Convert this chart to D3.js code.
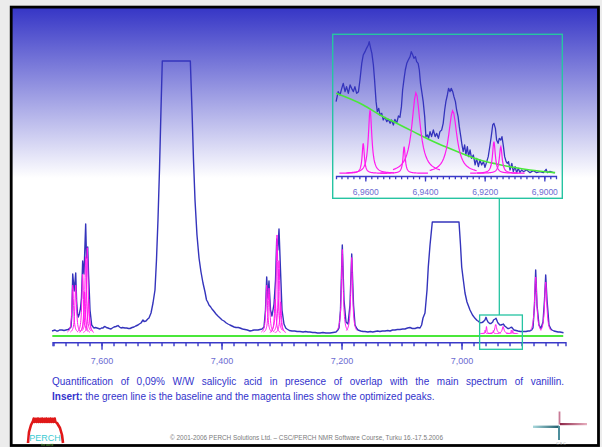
<!DOCTYPE html>
<html>
<head>
<meta charset="utf-8">
<script src="https://cdn.jsdelivr.net/npm/d3@7"></script>
<style>
  html, body { margin: 0; padding: 0; background: #ececec; }
  svg { display: block; font-family: "Liberation Sans", Arial, sans-serif; }
</style>
</head>
<body>
<svg id="slide"></svg>
<script>
// ---- data (ppm, intensity) ----

// full spectrum, main panel (intensity in arbitrary units above the baseline)
var spectrumMain = [
  [7.6825, 5], [7.6800, 5.5], [7.6775, 6], [7.6750, 5], [7.6725, 5], [7.6700, 6],
  [7.6659, 6], [7.6625, 5.5], [7.6592, 6], [7.6560, 6.5], [7.6542, 7], [7.6509, 9],
  [7.6495, 20], [7.6480, 62], [7.6455, 45], [7.6430, 63], [7.6415, 35], [7.6400, 22],
  [7.6387, 19], [7.6370, 22], [7.6350, 28], [7.6334, 38], [7.6314, 75], [7.6300, 65],
  [7.6292, 62], [7.6264, 112], [7.6250, 78], [7.6230, 89], [7.6215, 60], [7.6209, 52],
  [7.6192, 26], [7.6164, 11], [7.6140, 9], [7.6125, 8], [7.6100, 8.5], [7.6075, 8],
  [7.6050, 7.5], [7.6025, 7], [7.6000, 8], [7.5975, 8], [7.5960, 9], [7.5942, 9.5],
  [7.5920, 8.5], [7.5892, 8], [7.5870, 7.5], [7.5842, 7], [7.5820, 8], [7.5792, 9],
  [7.5760, 9.5], [7.5740, 10], [7.5725, 10.5], [7.5700, 9], [7.5675, 8], [7.5650, 8.5],
  [7.5609, 8], [7.5580, 8], [7.5550, 7.5], [7.5525, 7.5], [7.5490, 8.5], [7.5459, 9],
  [7.5430, 10], [7.5392, 11], [7.5370, 12], [7.5342, 13], [7.5320, 15], [7.5309, 16],
  [7.5290, 14.5], [7.5259, 15], [7.5230, 17], [7.5209, 18], [7.5175, 23], [7.5142, 33],
  [7.5109, 46], [7.5084, 76], [7.5059, 116], [7.5034, 166], [7.5009, 226], [7.4987, 275],
  [7.4520, 275], [7.4492, 226], [7.4467, 176], [7.4442, 136], [7.4409, 101], [7.4375, 78],
  [7.4342, 64], [7.4309, 53], [7.4275, 44], [7.4250, 36], [7.4230, 34], [7.4209, 31],
  [7.4180, 29], [7.4159, 27], [7.4130, 25], [7.4092, 22], [7.4060, 20], [7.4025, 18],
  [7.3990, 16], [7.3959, 15], [7.3920, 13], [7.3892, 12], [7.3860, 11], [7.3825, 10],
  [7.3790, 9], [7.3759, 8.5], [7.3720, 8.5], [7.3692, 8], [7.3650, 7], [7.3609, 6.5],
  [7.3570, 6], [7.3525, 5], [7.3490, 5.5], [7.3459, 6], [7.3420, 6], [7.3392, 6],
  [7.3360, 6.5], [7.3325, 7], [7.3292, 9], [7.3267, 26], [7.3247, 59], [7.3229, 38],
  [7.3209, 55], [7.3184, 26], [7.3159, 20], [7.3125, 32], [7.3100, 56], [7.3080, 97],
  [7.3062, 86], [7.3042, 107], [7.3017, 66], [7.2992, 26], [7.2959, 12], [7.2930, 8],
  [7.2909, 7], [7.2870, 5.5], [7.2825, 5], [7.2780, 5], [7.2740, 4.5], [7.2692, 4.5],
  [7.2640, 4], [7.2600, 4.5], [7.2560, 4], [7.2525, 4], [7.2480, 3.5], [7.2440, 3.5],
  [7.2400, 3], [7.2359, 3], [7.2310, 3.5], [7.2260, 3], [7.2192, 3], [7.2140, 3.5],
  [7.2092, 4], [7.2060, 6], [7.2042, 8], [7.2017, 26], [7.1987, 91], [7.1959, 36],
  [7.1925, 14], [7.1892, 12], [7.1859, 31], [7.1830, 82], [7.1800, 31], [7.1775, 11],
  [7.1745, 7.5], [7.1725, 6], [7.1680, 5], [7.1640, 4.5], [7.1609, 4.5], [7.1560, 4],
  [7.1520, 4.5], [7.1480, 4], [7.1442, 4.5], [7.1400, 5], [7.1360, 4.5], [7.1320, 5],
  [7.1275, 5], [7.1230, 5.5], [7.1190, 5], [7.1150, 6], [7.1109, 6], [7.1070, 6.5],
  [7.1025, 6.5], [7.0980, 7], [7.0942, 7], [7.0900, 8], [7.0859, 8.5], [7.0820, 7.5],
  [7.0775, 7.5], [7.0730, 8.5], [7.0692, 8], [7.0665, 11], [7.0642, 18], [7.0609, 23],
  [7.0575, 46], [7.0554, 69], [7.0525, 91], [7.0487, 114], [7.0042, 114], [7.0017, 91],
  [6.9997, 69], [6.9970, 56], [6.9942, 43], [6.9909, 34], [6.9859, 26], [6.9817, 21],
  [6.9775, 17.7], [6.9740, 15.5], [6.9725, 15], [6.9692, 13.3], [6.9660, 13.5], [6.9642, 14],
  [6.9610, 16], [6.9592, 18.7], [6.9575, 16], [6.9559, 14], [6.9530, 12.5], [6.9509, 12.5],
  [6.9480, 14], [6.9467, 16], [6.9440, 17], [6.9425, 17.7], [6.9400, 14], [6.9392, 13],
  [6.9360, 11], [6.9342, 11], [6.9320, 11.5], [6.9304, 12], [6.9280, 10], [6.9259, 9],
  [6.9230, 7.5], [6.9209, 7.5], [6.9180, 8.5], [6.9164, 8.7], [6.9140, 7], [6.9125, 6],
  [6.9090, 5.5], [6.9059, 5], [6.9020, 4.5], [6.8992, 4.5], [6.8950, 4.5], [6.8925, 4.5],
  [6.8890, 5], [6.8859, 5], [6.8830, 6], [6.8809, 8], [6.8784, 31], [6.8764, 66],
  [6.8742, 31], [6.8709, 11], [6.8675, 7.7], [6.8642, 14], [6.8617, 36], [6.8597, 61],
  [6.8575, 36], [6.8542, 11], [6.8510, 7], [6.8492, 6], [6.8460, 5], [6.8425, 4.5],
  [6.8390, 4], [6.8359, 4], [6.8300, 3.3]
];

// baseline of the main panel
var baselineMain = [[7.6820, 0], [6.8305, 0]];

// optimized peaks, main panel: [centre ppm, height, half width ppm]
var peaksMain = [
  [7.6480, 49, 0.0016], [7.6430, 49, 0.0016],
  [7.6314, 60, 0.0016], [7.6282, 42, 0.0016], [7.6264, 78, 0.0016],
  [7.6237, 87, 0.0016], [7.6215, 35, 0.0016],
  [7.3247, 49, 0.0016], [7.3209, 46, 0.0016], [7.3105, 35, 0.0016],
  [7.3075, 100, 0.0016], [7.3042, 74, 0.0016], [7.3015, 32, 0.0016],
  [7.1987, 84, 0.0018], [7.1830, 76, 0.0018],
  [6.9607, 3.3, 0.0005], [6.9584, 7, 0.0008], [6.9470, 3, 0.0005],
  [6.9430, 9, 0.0018], [6.9307, 7, 0.0018], [6.9169, 3.5, 0.0006], [6.9146, 3, 0.0006],
  [6.8764, 57, 0.0022], [6.8597, 52, 0.0022]
];
var peakBaseMain = 2.5;

// insert: zoomed spectrum of the salicylic acid region
var spectrumInset = [
  [6.9698, 215], [6.9691, 245], [6.9685, 235], [6.9679, 255], [6.9674, 270], [6.9668, 245],
  [6.9663, 260], [6.9657, 240], [6.9651, 265], [6.9646, 255], [6.9640, 245], [6.9635, 260],
  [6.9629, 240], [6.9623, 245], [6.9618, 280], [6.9612, 330], [6.9607, 355], [6.9601, 365],
  [6.9596, 375], [6.9590, 385], [6.9587, 395], [6.9582, 375], [6.9578, 360], [6.9573, 325],
  [6.9569, 280], [6.9564, 215], [6.9560, 185], [6.9555, 195], [6.9551, 175], [6.9545, 180],
  [6.9540, 160], [6.9534, 168], [6.9528, 155], [6.9523, 162], [6.9517, 150], [6.9512, 160],
  [6.9506, 145], [6.9501, 162], [6.9495, 150], [6.9489, 172], [6.9484, 168], [6.9479, 200],
  [6.9475, 250], [6.9470, 285], [6.9466, 310], [6.9461, 330], [6.9456, 340], [6.9450, 350],
  [6.9446, 365], [6.9441, 355], [6.9437, 345], [6.9432, 350], [6.9428, 335], [6.9423, 330],
  [6.9419, 310], [6.9415, 270], [6.9410, 240], [6.9406, 215], [6.9401, 170], [6.9397, 110],
  [6.9392, 115], [6.9388, 105], [6.9383, 125], [6.9378, 110], [6.9372, 130], [6.9366, 110],
  [6.9361, 120], [6.9355, 105], [6.9350, 125], [6.9344, 130], [6.9339, 150], [6.9334, 190],
  [6.9330, 215], [6.9325, 235], [6.9321, 255], [6.9316, 245], [6.9312, 255], [6.9307, 245],
  [6.9303, 230], [6.9298, 215], [6.9294, 190], [6.9289, 170], [6.9285, 140], [6.9280, 110],
  [6.9276, 85], [6.9272, 65], [6.9267, 85], [6.9263, 55], [6.9258, 80], [6.9254, 50],
  [6.9249, 70], [6.9244, 45], [6.9238, 55], [6.9232, 25], [6.9227, 45], [6.9221, 20],
  [6.9216, 40], [6.9210, 25], [6.9204, 35], [6.9199, 18], [6.9193, 35], [6.9188, 50],
  [6.9182, 85], [6.9178, 110], [6.9173, 145], [6.9169, 150], [6.9164, 135], [6.9160, 100],
  [6.9155, 90], [6.9151, 105], [6.9146, 100], [6.9142, 110], [6.9137, 80], [6.9133, 50],
  [6.9128, 35], [6.9124, 30], [6.9120, 35], [6.9115, 10], [6.9109, 30], [6.9104, 5],
  [6.9098, 20], [6.9093, 2], [6.9087, 15], [6.9082, 2], [6.9076, 10], [6.9070, 5],
  [6.9059, 10], [6.9048, 2], [6.9037, 8], [6.9026, 2], [6.9015, 5], [6.9003, 2],
  [6.8994, 12], [6.8990, 2], [6.8981, 6], [6.8970, 2], [6.8964, 2]
];

// insert: fitted baseline (green)
var baselineInset = [
  [6.9698, 240], [6.9607, 205], [6.9551, 175], [6.9495, 150], [6.9439, 125], [6.9383, 100],
  [6.9327, 78], [6.9272, 58], [6.9216, 40], [6.9160, 28], [6.9104, 18], [6.9048, 10],
  [6.8964, 2]
];

// insert: optimized peaks [centre ppm, height, half width ppm]
var peaksInset = [
  [6.9607, 90, 0.00045], [6.9584, 190, 0.0007], [6.9470, 80, 0.00045],
  [6.9430, 242, 0.0017], [6.9307, 188, 0.0017], [6.9169, 95, 0.00056], [6.9146, 80, 0.00056]
];

// axis ticks
var majorTicksMain = [7.6, 7.4, 7.2, 7.0];
var majorTicksInset = [6.96, 6.94, 6.92, 6.90];

var captionLine1 = "Quantification of 0,09% W/W salicylic acid in presence of overlap with the main spectrum of vanillin.";
var captionBold = "Insert:";
var captionLine2 = " the green line is the baseline and the magenta lines show the optimized peaks.";
var footerText = "\u00a9 2001-2006 PERCH Solutions Ltd. \u2013 CSC/PERCH NMR Software Course, Turku 16.-17.5.2006";

// ---- drawing ----
var width = 602, height = 447;
var blue = "#3434bc", magenta = "#ff1aee", green = "#4ae83a", teal = "#26c4a2";
var tickBlue = "#3a3ac8", labelBlue = "#6c6cd2";

var svg = d3.select("#slide").attr("width", width).attr("height", height);
var defs = svg.append("defs");

var grad = defs.append("linearGradient").attr("id", "topfade")
  .attr("gradientUnits", "userSpaceOnUse")
  .attr("x1", 0).attr("y1", 8).attr("x2", 0).attr("y2", 178);
grad.append("stop").attr("offset", 0).attr("stop-color", "#3636c6");
grad.append("stop").attr("offset", 1).attr("stop-color", "#ffffff");

// slide paper, gradient band and frame
svg.append("rect").attr("x", 11).attr("y", 7).attr("width", 587).attr("height", 438).attr("fill", "#fff");
svg.append("rect").attr("x", 11).attr("y", 8).attr("width", 587).attr("height", 170).attr("fill", "url(#topfade)");
svg.append("rect").attr("x", 11.2).attr("y", 7.1).attr("width", 587.3).attr("height", 438.4)
  .attr("fill", "none").attr("stroke", "#000").attr("stroke-width", 2.8);

// scales for main panel
var xMain = d3.scaleLinear().domain([7.6817, 6.8267]).range([52.5, 565.5]);
var yMain = d3.scaleLinear().domain([0, 300]).range([336, 36]);
var lineMain = d3.line().x(function(d) { return xMain(d[0]); }).y(function(d) { return yMain(d[1]); });

// Lorentzian trace for one optimized peak
function peakPoints(p, base, span) {
  var c = p[0], h = p[1], w = p[2];
  return d3.range(-span, span + 1e-9, w / 4).map(function(d) {
    return [c + d, base + h / (1 + (d / w) * (d / w))];
  });
}

var gMain = svg.append("g");

gMain.append("path").datum(baselineMain)
  .attr("d", lineMain).attr("fill", "none").attr("stroke", green).attr("stroke-width", 2);

gMain.append("path").datum(spectrumMain)
  .attr("d", lineMain).attr("fill", "none").attr("stroke", blue)
  .attr("stroke-width", 1.4).attr("stroke-linejoin", "round");

gMain.selectAll(".peak").data(peaksMain).enter().append("path")
  .attr("class", "peak")
  .attr("d", function(p) { return lineMain(peakPoints(p, peakBaseMain, 0.009)); })
  .attr("fill", "none").attr("stroke", magenta).attr("stroke-width", 1);

// main axis: minor ticks every 0.02 ppm, labelled major ticks
var commaFmt = function(n) { return function(v) { return d3.format("." + n + "f")(v).replace(".", ","); }; };

var axisY = 342.3;
var minorAxis = svg.append("g").attr("transform", "translate(0," + axisY + ")")
  .call(d3.axisBottom(xMain).tickValues(d3.range(7.68, 6.83, -0.02)).tickSize(4).tickSizeOuter(4).tickFormat(""));
var majorAxis = svg.append("g").attr("transform", "translate(0," + axisY + ")")
  .call(d3.axisBottom(xMain).tickValues(majorTicksMain).tickSize(7.5).tickSizeOuter(0).tickPadding(8).tickFormat(commaFmt(3)));
majorAxis.select(".domain").remove();
[minorAxis, majorAxis].forEach(function(a) {
  a.selectAll("path, line").attr("stroke", tickBlue).attr("stroke-width", 1.4);
  a.selectAll("text").attr("fill", labelBlue).attr("font-size", 9)
    .attr("font-family", "Liberation Sans, Arial, sans-serif");
});

// zoom box on the main panel and connector to the insert
var xInset = d3.scaleLinear().domain([6.96983, 6.89609]).range([336, 556]);
var yInset = d3.scaleLinear().domain([0, 400]).range([173.3, 40]);
var lineInset = d3.line().x(function(d) { return xInset(d[0]); }).y(function(d) { return yInset(d[1]); });

var zx0 = xMain(xInset.domain()[0]), zx1 = xMain(xInset.domain()[1]);
svg.append("rect").attr("x", zx0).attr("y", 315).attr("width", zx1 - zx0 - 1.5).attr("height", 34.3)
  .attr("fill", "none").attr("stroke", teal).attr("stroke-width", 1.3);
svg.append("line").attr("x1", xMain(6.937)).attr("x2", xMain(6.937)).attr("y1", 198.3).attr("y2", 315)
  .attr("stroke", teal).attr("stroke-width", 1.3);

// insert panel
svg.append("rect").attr("x", 332.7).attr("y", 34.3).attr("width", 229.6).attr("height", 164)
  .attr("fill", "none").attr("stroke", teal).attr("stroke-width", 1.4);

defs.append("clipPath").attr("id", "insetclip").append("rect")
  .attr("x", 335).attr("y", 35.5).attr("width", 223).attr("height", 141);

var gInset = svg.append("g").attr("clip-path", "url(#insetclip)");

gInset.append("path").datum(spectrumInset)
  .attr("d", lineInset).attr("fill", "none").attr("stroke", blue)
  .attr("stroke-width", 1.3).attr("stroke-linejoin", "round");

gInset.append("path").datum(baselineInset)
  .attr("d", lineInset.curve(d3.curveMonotoneX)).attr("fill", "none").attr("stroke", green).attr("stroke-width", 1.6);
lineInset.curve(d3.curveLinear);

gInset.selectAll(".peak").data(peaksInset).enter().append("path")
  .attr("class", "peak")
  .attr("d", function(p) { return lineInset(peakPoints(p, 0, 0.008)); })
  .attr("fill", "none").attr("stroke", magenta).attr("stroke-width", 1.2);

var insetAxisY = 176;
var insetMinor = svg.append("g").attr("transform", "translate(0," + insetAxisY + ")")
  .call(d3.axisBottom(xInset).tickValues(d3.range(6.968, 6.897, -0.002)).tickSize(3.3).tickSizeOuter(3.3).tickFormat(""));
var insetMajor = svg.append("g").attr("transform", "translate(0," + insetAxisY + ")")
  .call(d3.axisBottom(xInset).tickValues(majorTicksInset).tickSize(5.5).tickSizeOuter(0).tickPadding(7.5).tickFormat(commaFmt(4)));
insetMajor.select(".domain").remove();
[insetMinor, insetMajor].forEach(function(a) {
  a.selectAll("path, line").attr("stroke", tickBlue).attr("stroke-width", 1.3);
  a.selectAll("text").attr("fill", labelBlue).attr("font-size", 8.5)
    .attr("font-family", "Liberation Sans, Arial, sans-serif");
});

// caption: first line justified across the text column
var capX0 = 52, capX1 = 564;
var cap = svg.append("g").attr("fill", "#3333cc").attr("font-size", 10);
var words = captionLine1.split(" ");
var wordNodes = words.map(function(w) { return cap.append("text").attr("y", 384.5).text(w); });
var widths = wordNodes.map(function(n) { return n.node().getComputedTextLength(); });
var gap = (capX1 - capX0 - d3.sum(widths)) / (words.length - 1);
var cx = capX0;
wordNodes.forEach(function(n, i) { n.attr("x", cx); cx += widths[i] + gap; });

var line2 = cap.append("text").attr("x", capX0).attr("y", 400);
line2.append("tspan").attr("font-weight", "bold").text(captionBold);
line2.append("tspan").text(captionLine2);

// footer
svg.append("text").attr("x", 306.5).attr("y", 440).attr("text-anchor", "middle")
  .attr("font-size", 6.4).attr("fill", "#7a7a7a").text(footerText);

// PERCH logo (bottom left)
var logo = svg.append("g");
var arch = [[28, 443], [29, 432], [31, 425], [33, 421]];
for (var i = 0; i < 11; i++) {
  var lx = 33 + i * 2.1;
  arch.push([lx + 0.7, 418.5 + (i % 2) * 0.3], [lx + 1.4, 422]);
}
arch.push([57, 423], [60, 428], [62, 435], [63, 443]);
logo.append("path").attr("d", d3.line()(arch)).attr("fill", "none")
  .attr("stroke", "#e01818").attr("stroke-width", 2.6).attr("stroke-linejoin", "round");
logo.append("text").attr("x", 45).attr("y", 441).attr("text-anchor", "middle")
  .attr("font-size", 9).attr("fill", "#3ccad2").text("PERCH");
logo.append("text").attr("x", 47).attr("y", 445.5).attr("text-anchor", "middle")
  .attr("font-size", 3).attr("fill", "#66bb44").text("the world");

// CSC logo (bottom right)
var csc = svg.append("g");
var g1 = defs.append("linearGradient").attr("id", "tealbar");
g1.append("stop").attr("offset", 0).attr("stop-color", "#a8d8dc");
g1.append("stop").attr("offset", 1).attr("stop-color", "#1f5c6c");
var g2 = defs.append("linearGradient").attr("id", "redbar");
g2.append("stop").attr("offset", 0).attr("stop-color", "#8c2446");
g2.append("stop").attr("offset", 1).attr("stop-color", "#e8b0c0");
csc.append("rect").attr("x", 533).attr("y", 425.6).attr("width", 26).attr("height", 2.4).attr("fill", "url(#tealbar)");
csc.append("rect").attr("x", 558).attr("y", 426).attr("width", 2).attr("height", 14).attr("fill", "#4e8e9c");
csc.append("rect").attr("x", 558.6).attr("y", 411.5).attr("width", 1.8).attr("height", 13).attr("fill", "#c87a96");
csc.append("rect").attr("x", 560).attr("y", 423).attr("width", 27).attr("height", 2.2).attr("fill", "url(#redbar)");
csc.append("text").attr("x", 561).attr("y", 445).attr("text-anchor", "middle")
  .attr("font-size", 3.6).attr("fill", "#999").text("C S C");
</script>
</body>
</html>
